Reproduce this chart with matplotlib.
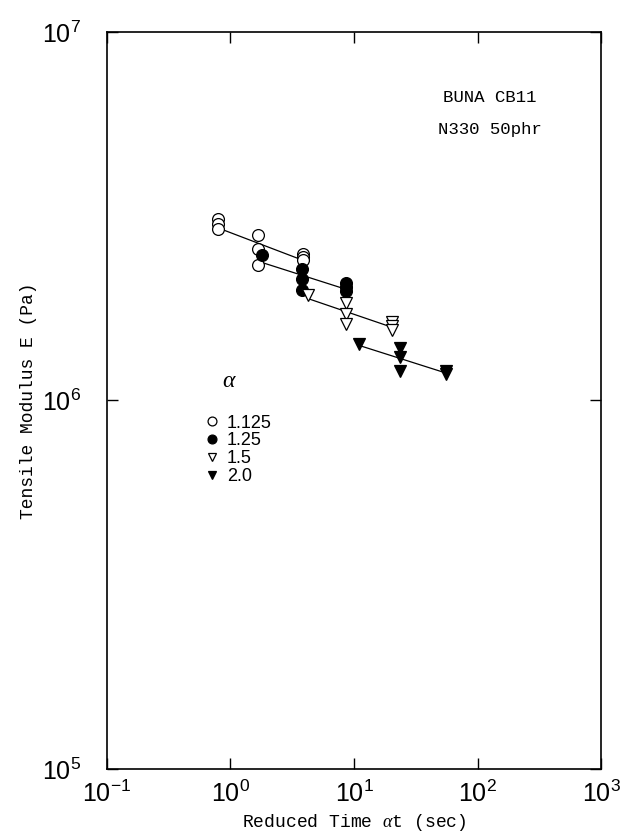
import numpy as np
import matplotlib
matplotlib.use("Agg")
import matplotlib.pyplot as plt

# ---- data ----
alpha_labels = ["1.125", "1.25", "1.5", "2.0"]

t_1125 = [0.79, 0.79, 0.79, 1.66, 1.66, 1.66, 3.90, 3.90, 3.90]
E_1125 = [3.10e6, 3.01e6, 2.92e6, 2.81e6, 2.57e6, 2.33e6, 2.49e6, 2.45e6, 2.40e6]

t_125 = [1.79, 3.76, 3.76, 3.76, 8.65, 8.65, 8.65]
E_125 = [2.48e6, 2.27e6, 2.13e6, 1.99e6, 2.08e6, 2.03e6, 1.98e6]

t_15 = [4.28, 8.65, 8.65, 8.65, 20.3, 20.3, 20.3]
E_15 = [1.93e6, 1.835e6, 1.72e6, 1.61e6, 1.63e6, 1.59e6, 1.55e6]

t_20 = [11.0, 23.5, 23.5, 23.5, 55.2, 55.2]
E_20 = [1.42e6, 1.384e6, 1.31e6, 1.20e6, 1.206e6, 1.177e6]

series = [(t_1125, E_1125, "o", "white"),
          (t_125, E_125, "o", "black"),
          (t_15, E_15, "v", "white"),
          (t_20, E_20, "v", "black")]

mono = ["Liberation Mono", "DejaVu Sans Mono"]
sans = ["Liberation Sans", "DejaVu Sans"]

plt.rcParams["mathtext.fontset"] = "custom"
plt.rcParams["mathtext.rm"] = "Liberation Sans"
plt.rcParams["mathtext.it"] = "Liberation Serif:italic"

fig = plt.figure(figsize=(6.21, 8.39), dpi=100)
ax = fig.add_axes([0.1723, 0.0834, 0.7955, 0.8785])

handles = []
for (t, E, m, fc), lab in zip(series, alpha_labels):
    t = np.asarray(t); E = np.asarray(E)
    # least-squares fit in log-log space, drawn over the series range
    p = np.polyfit(np.log10(t), np.log10(E), 1)
    xs = np.array([t.min(), t.max()])
    ax.plot(xs, 10 ** np.polyval(p, np.log10(xs)), color="black", lw=0.9, zorder=2)
    h, = ax.plot(t, E, linestyle="none", marker=m, ms=8.5, mfc=fc, mec="black",
                 mew=0.9, zorder=3, label=lab)
    handles.append(h)

ax.set_xscale("log")
ax.set_yscale("log")
ax.set_xlim(1e-1, 1e3)
ax.set_ylim(1e5, 1e7)
ax.minorticks_off()

xt = [1e-1, 1e0, 1e1, 1e2, 1e3]
yt = [1e5, 1e6, 1e7]
ax.set_xticks(xt)
ax.set_yticks(yt)
ax.set_xticklabels([r"$\mathrm{10^{%d}}$" % round(np.log10(v)) for v in xt])
ax.set_yticklabels([r"$\mathrm{10^{%d}}$" % round(np.log10(v)) for v in yt])
ax.tick_params(which="major", direction="in", length=8, width=1,
               top=True, right=True, labelsize=18)
ax.tick_params(axis="x", pad=8)
ax.tick_params(axis="y", pad=19)
for s in ax.spines.values():
    s.set_linewidth(1.2)

ax.set_xlabel(r"Reduced Time $\alpha$t (sec)", family=mono, fontsize=13, labelpad=4)
ax.set_ylabel("Tensile Modulus E (Pa)", family=mono, fontsize=13, labelpad=3)

ax.text(0.68, 0.905, "BUNA CB11", transform=ax.transAxes, family=mono, fontsize=12.5)
ax.text(0.67, 0.862, "N330 50phr", transform=ax.transAxes, family=mono, fontsize=12.5)

ax.text(0.247, 0.528, r"$\alpha$", transform=ax.transAxes, fontsize=17,
        ha="center", va="center")
leg = ax.legend(handles=handles, loc="upper left",
                bbox_to_anchor=(0.195, 0.481), frameon=False, markerscale=0.75,
                handlelength=1.0, handletextpad=0.3, labelspacing=0.05,
                borderaxespad=0, borderpad=0,
                prop={"family": sans, "size": 13})

fig.savefig("out.png", dpi=100)
